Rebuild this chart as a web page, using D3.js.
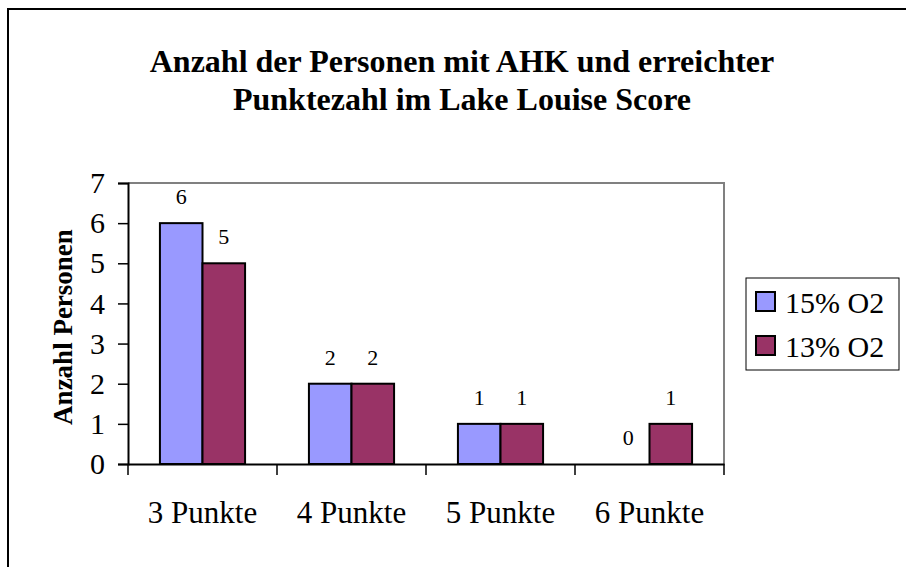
<!DOCTYPE html>
<html><head><meta charset="utf-8">
<script src="https://cdn.jsdelivr.net/npm/d3@7"></script>
<style>body{margin:0;background:#fff}svg{display:block}text{font-family:"Liberation Serif","Times New Roman",serif}</style>
</head><body><svg id="c" width="906" height="567"></svg>
<script>
const categories = ["3 Punkte","4 Punkte","5 Punkte","6 Punkte"];
const seriesNames = ["15% O2","13% O2"];
const values15 = [6,2,1,0];
const values13 = [5,2,1,1];
const yTicks = [0,1,2,3,4,5,6,7];
const colors = ["#9999FF","#993366"];

const svg = d3.select("#c");
svg.append("rect").attr("x",8).attr("y",9).attr("width",910).attr("height",570)
  .attr("fill","none").attr("stroke","#000").attr("stroke-width",2);

svg.append("text").attr("x",462).attr("y",72).attr("text-anchor","middle")
  .attr("font-weight","bold").attr("font-size",32).text("Anzahl der Personen mit AHK und erreichter");
svg.append("text").attr("x",462).attr("y",110).attr("text-anchor","middle")
  .attr("font-weight","bold").attr("font-size",32).text("Punktezahl im Lake Louise Score");

const L=128,R=724,T=183,B=464;
const x = d3.scaleBand().domain(categories).range([L,R]);
const y = d3.scaleLinear().domain([0,7]).range([B,T]);
const bw = x.bandwidth()/3.5;
const x1 = d3.scaleBand().domain(seriesNames).range([0,2*bw]);

svg.append("path").attr("d",`M${L},${T}H${R}V${B}`).attr("fill","none").attr("stroke","#808080").attr("stroke-width",2);

const data = [values15, values13];
data.forEach((vals,si)=>{
  const g = svg.append("g");
  g.selectAll("rect").data(vals).join("rect")
    .attr("x",(d,i)=>x(categories[i])+x.bandwidth()/2-bw+x1(seriesNames[si]))
    .attr("y",d=>y(d)).attr("width",bw).attr("height",d=>B-y(d))
    .attr("fill",colors[si]).attr("stroke",d=>d>0?"#000":"none").attr("stroke-width",2);
  g.selectAll("text").data(vals).join("text")
    .attr("x",(d,i)=>x(categories[i])+x.bandwidth()/2-bw+x1(seriesNames[si])+bw/2)
    .attr("y",d=>y(d)-19).attr("text-anchor","middle").attr("font-size",22).text(d=>d);
});

const ya = svg.append("g").attr("transform",`translate(${L},0)`)
  .call(d3.axisLeft(y).tickValues(yTicks).tickSize(10).tickPadding(13).tickFormat(d3.format("d")));
ya.select(".domain").attr("stroke","#000").attr("stroke-width",2);
ya.selectAll(".tick line").attr("stroke","#000").attr("stroke-width",1.5);
ya.selectAll("text").attr("font-size",30).attr("fill","#000");

const xa = svg.append("g").attr("transform",`translate(0,${B})`)
  .call(d3.axisBottom(x).tickSize(0).tickPadding(37));
xa.select(".domain").attr("stroke","#000").attr("stroke-width",2);
xa.selectAll("text").attr("font-size",31).attr("fill","#000");
const bounds = [L].concat(categories.map(c=>x(c)+x.bandwidth()));
svg.append("g").selectAll("line").data(bounds).join("line")
  .attr("x1",d=>d).attr("x2",d=>d).attr("y1",B).attr("y2",B+11).attr("stroke","#000").attr("stroke-width",1.5);

svg.append("text").attr("transform",`translate(72,327) rotate(-90)`)
  .attr("text-anchor","middle").attr("font-weight","bold").attr("font-size",27).text("Anzahl Personen");

const lg = svg.append("g");
lg.append("rect").attr("x",746).attr("y",278).attr("width",153).attr("height",92)
  .attr("fill","#fff").attr("stroke","#000").attr("stroke-width",1);
seriesNames.forEach((s,i)=>{
  const top = 292+i*44;
  lg.append("rect").attr("x",756).attr("y",top).attr("width",19).attr("height",19)
    .attr("fill",colors[i]).attr("stroke","#000").attr("stroke-width",2);
  lg.append("text").attr("x",785).attr("y",top+21).attr("font-size",30).text(s);
});
</script></body></html>
